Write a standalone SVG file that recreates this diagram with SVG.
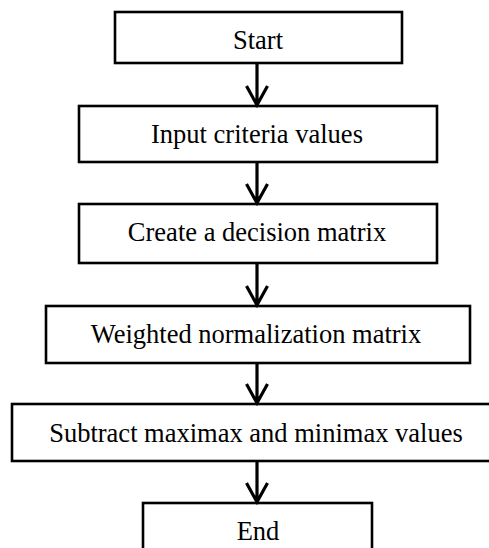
<svg xmlns="http://www.w3.org/2000/svg" width="489" height="548" viewBox="0 0 489 548">
<style>
.box{fill:#fff;stroke:#000;stroke-width:2.6}
.lbl{font-family:"Liberation Serif","Times New Roman",serif;font-size:26.5px;fill:#000;text-anchor:middle}
.con{fill:none;stroke:#000;stroke-width:3.2}
</style>
<rect width="489" height="548" fill="#fff"/>
<g id="start"><rect class="box" x="115" y="12" width="287" height="51"/><text class="lbl" x="258" y="49">Start</text></g>
<g id="input"><rect class="box" x="79" y="106" width="358" height="56"/><text class="lbl" x="257" y="143">Input criteria values</text></g>
<g id="create"><rect class="box" x="79" y="204" width="358" height="59"/><text class="lbl" x="257" y="241">Create a decision matrix</text></g>
<g id="weighted"><rect class="box" x="46" y="306" width="424" height="57"/><text class="lbl" x="256" y="343">Weighted normalization matrix</text></g>
<g id="subtract"><rect class="box" x="12" y="404" width="482" height="57"/><text class="lbl" x="256" y="442">Subtract maximax and minimax values</text></g>
<g id="end"><rect class="box" x="143" y="503" width="229" height="60"/><text class="lbl" x="258" y="540">End</text></g>
<g id="connectors">
<path class="con" d="M257 63V105M246.5 86L257 105L267.5 86"/>
<path class="con" d="M257 162V203M246.5 184L257 203L267.5 184"/>
<path class="con" d="M257 263V305M246.5 286L257 305L267.5 286"/>
<path class="con" d="M257 363V403M246.5 384L257 403L267.5 384"/>
<path class="con" d="M257 461V502M246.5 483L257 502L267.5 483"/>
</g>
</svg>
